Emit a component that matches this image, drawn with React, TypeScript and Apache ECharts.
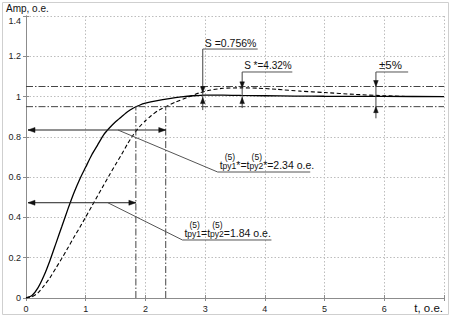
import React, { useEffect, useRef } from 'react';
import * as echarts from 'echarts';

const FONT = '"Liberation Sans", Arial, sans-serif';

// Solid curve (system 1)
const T_SOLID = [0, 0.1, 0.2, 0.3, 0.4, 0.5, 0.6, 0.7, 0.8, 0.9, 1.0, 1.1, 1.2, 1.3, 1.4, 1.5, 1.6, 1.7, 1.8, 1.9, 2.0, 2.2, 2.4, 2.6, 2.8, 3.0, 3.3, 3.6, 4.0, 4.5, 5.0, 6.0, 7.0];
const Y_SOLID = [0, 0.012, 0.05, 0.11, 0.185, 0.27, 0.355, 0.44, 0.52, 0.59, 0.65, 0.71, 0.76, 0.81, 0.845, 0.875, 0.9, 0.925, 0.943, 0.957, 0.967, 0.98, 0.99, 0.998, 1.004, 1.0076, 1.007, 1.0055, 1.004, 1.0025, 1.0015, 1.0005, 1.0];

// Dashed curve (system 2)
const T_DASH = [0, 0.1, 0.2, 0.3, 0.4, 0.5, 0.6, 0.7, 0.8, 0.9, 1.0, 1.1, 1.2, 1.3, 1.4, 1.5, 1.6, 1.7, 1.8, 1.9, 2.0, 2.1, 2.2, 2.34, 2.5, 2.7, 2.9, 3.1, 3.3, 3.6, 3.9, 4.2, 4.6, 5.0, 5.5, 6.0, 6.5, 7.0];
const Y_DASH = [0, 0.006, 0.025, 0.06, 0.1, 0.148, 0.197, 0.248, 0.3, 0.35, 0.402, 0.455, 0.508, 0.56, 0.612, 0.663, 0.712, 0.765, 0.812, 0.85, 0.88, 0.906, 0.928, 0.95, 0.972, 0.996, 1.018, 1.033, 1.041, 1.0432, 1.0415, 1.036, 1.027, 1.02, 1.011, 1.004, 1.0, 1.0];

const X_MAX = 7;
const Y_MAX = 1.4;
const SETTLE_TIMES = [1.84, 2.34];
const BAND_LEVELS = [0.95, 1.05];
const SPAN_TIMES = [1.84, 2.34];
const SPAN_LEVELS = [0.473, 0.834];

// leader lines: start (t,v), corner (t,v), end t
const LEADER_START_T = [1.37, 1.54];
const LEADER_START_V = [0.473, 0.834];
const LEADER_CORNER_T = [2.62, 3.21];
const LEADER_LEVEL = [0.288, 0.6255];
const LEADER_END_T = [4.11, 4.76];
const LEADER_LABELS = [
  [['t', 'm'], ['py1', 's'], ['=', 'm'], ['t', 'm'], ['py2', 's'], ['=1.84 o.e.', 'm']],
  [['t', 'm'], ['py1', 's'], ['*=', 'm'], ['t', 'm'], ['py2', 's'], ['*=2.34 o.e.', 'm']],
];

// vertical marker annotations
const MARK_T = [2.96, 3.62, 5.86];
const MARK_TOP = [1.236, 1.122, 1.122];
const MARK_BOTTOM = [0.933, 0.943, 0.892];
const MARK_END_T = [3.88, 4.46, 6.4];
const MARK_DOWN_TIP = [1.02, 1.0432, 1.05];
const MARK_UP_TIP = [0.995, 0.995, 0.95];
const MARK_LABELS = ['S =0.756%', 'S *=4.32%', '\u00b15%'];
const MARK_SIZES = [10.5, 10, 11.5];
const MARK_DX = [2, 2, 3];

const measure = (text: string, size: number) => {
  const ctx = document.createElement('canvas').getContext('2d')!;
  ctx.font = `${size}px "Liberation Sans"`;
  return ctx.measureText(text).width;
};

export default function App() {
  const ref = useRef<HTMLDivElement>(null);
  useEffect(() => {
    document.body.style.margin = '0';
    const chart = echarts.init(ref.current!, null, { renderer: 'svg' });
    const axisLine = { show: true, lineStyle: { color: '#8c8c8c', width: 1 } };
    const split = { show: true, lineStyle: { color: '#bdbdbd', type: [1.5, 2] as any, width: 1 } };
    chart.setOption({
      animation: false,
      grid: { left: 26, right: 8, top: 16, bottom: 20, containLabel: false },
      xAxis: [
        {
          type: 'value', min: 0, max: X_MAX, interval: 1,
          axisLine, axisTick: { show: true, inside: true, length: 3, lineStyle: { color: '#8c8c8c' } },
          splitLine: split,
          axisLabel: {
            fontSize: 9, color: '#222', fontFamily: FONT, margin: 6,
            formatter: (v: number) => (v >= X_MAX ? '' : String(v)),
          },
        },
        {
          type: 'value', position: 'top', min: 0, max: X_MAX, interval: 1,
          axisLine, axisTick: { show: true, inside: true, length: 3, lineStyle: { color: '#8c8c8c' } },
          splitLine: { show: false }, axisLabel: { show: false },
        },
      ],
      yAxis: [
        {
          type: 'value', min: 0, max: Y_MAX, interval: 0.2,
          axisLine, axisTick: { show: true, inside: true, length: 3, lineStyle: { color: '#8c8c8c' } },
          splitLine: split,
          axisLabel: {
            fontSize: 9, color: '#222', fontFamily: FONT, margin: 5,
            formatter: (v: number) => (v >= Y_MAX - 1e-6 ? '{top|' + String(+v.toFixed(1)) + '}' : String(+v.toFixed(1))),
            rich: { top: { fontSize: 9, color: '#222', fontFamily: FONT, padding: [9, 0, 0, 0] } },
          },
        },
        {
          type: 'value', position: 'right', min: 0, max: Y_MAX, interval: 0.2,
          axisLine, axisTick: { show: true, inside: true, length: 3, lineStyle: { color: '#8c8c8c' } },
          splitLine: { show: false }, axisLabel: { show: false },
        },
      ],
      series: [
        {
          type: 'line', xAxisIndex: 0, yAxisIndex: 0, showSymbol: false, smooth: 0.2,
          data: T_SOLID.map((t, i) => [t, Y_SOLID[i]]),
          lineStyle: { color: '#000', width: 1.3 }, z: 3,
        },
        {
          type: 'line', xAxisIndex: 0, yAxisIndex: 0, showSymbol: false, smooth: 0.2,
          data: T_DASH.map((t, i) => [t, Y_DASH[i]]),
          lineStyle: { color: '#000', width: 1.1, type: [4, 2.5] as any }, z: 3,
        },
      ],
    });

    const P = (t: number, v: number) => chart.convertToPixel({ xAxisIndex: 0, yAxisIndex: 0 }, [t, v]) as number[];
    const g: any[] = [];
    const Z = 10;
    const line = (a: number[], b: number[], color: string, dash?: number[], w = 1) =>
      g.push({ type: 'line', z: Z, silent: true, shape: { x1: a[0], y1: a[1], x2: b[0], y2: b[1] }, style: { stroke: color, lineWidth: w, lineDash: dash } });
    const head = (tip: number[], dir: string, l = 6, w = 2.3) => {
      const [x, y] = tip;
      let pts: number[][] = [];
      if (dir === 'down') pts = [[x, y], [x - w, y - l], [x + w, y - l]];
      if (dir === 'up') pts = [[x, y], [x - w, y + l], [x + w, y + l]];
      if (dir === 'left') pts = [[x, y], [x + l, y - w], [x + l, y + w]];
      if (dir === 'right') pts = [[x, y], [x - l, y - w], [x - l, y + w]];
      g.push({ type: 'polygon', z: Z, silent: true, shape: { points: pts }, style: { fill: '#111', stroke: '#111', lineWidth: 0.5 } });
    };
    const text = (x: number, y: number, s: string, size: number, align = 'left', va = 'bottom') =>
      g.push({ type: 'text', z: Z, silent: true, x, y, style: { text: s, fontSize: size, fontFamily: FONT, fill: '#111', align, verticalAlign: va } });

    const DASHDOT = [7, 2, 1.5, 2];
    // band lines
    BAND_LEVELS.forEach((lv) => line(P(0, lv), P(X_MAX, lv), '#444', DASHDOT));
    // settle verticals
    SETTLE_TIMES.forEach((t) => line(P(t, 0), P(t, 0.95), '#444', DASHDOT));
    // span arrows
    SPAN_TIMES.forEach((t, i) => {
      const a = P(0, SPAN_LEVELS[i]);
      a[0] += 2;
      const b = P(t, SPAN_LEVELS[i]);
      line(a, b, '#222');
      head(a, 'left', 7, 2.5);
      head(b, 'right', 7, 2.5);
    });
    // leader lines + labels
    const MAIN = 10.5, SUB = 8.5;
    LEADER_START_T.forEach((t, i) => {
      const s = P(t, LEADER_START_V[i]);
      const c = P(LEADER_CORNER_T[i], LEADER_LEVEL[i]);
      const e = P(LEADER_END_T[i], LEADER_LEVEL[i]);
      line(s, c, '#555');
      line(c, e, '#555');
      let x = c[0] + 2;
      const yb = c[1] - 1.5;
      LEADER_LABELS[i].forEach(([str, kind]) => {
        const size = kind === 's' ? SUB : MAIN;
        const w = measure(str, size);
        text(x, yb, str, size);
        if (kind === 's') text(x + w / 2 + 0.5, yb - 9, '(5)', 8.5, 'center');
        x += w;
      });
    });
    // vertical markers
    MARK_T.forEach((t, i) => {
      const top = P(t, MARK_TOP[i]);
      line(top, P(t, MARK_BOTTOM[i]), '#444');
      line(top, P(MARK_END_T[i], MARK_TOP[i]), '#555');
      head(P(t, MARK_DOWN_TIP[i]), 'down');
      head(P(t, MARK_UP_TIP[i]), 'up');
      text(top[0] + MARK_DX[i], top[1] - 1, MARK_LABELS[i], MARK_SIZES[i]);
    });
    // axis titles
    text(6, 8, 'Amp, o.e.', 10, 'left', 'middle');
    text(443, 308, 't, o.e.', 11.5, 'right', 'middle');
    // outer frame
    g.push({ type: 'rect', z: 0, silent: true, shape: { x: 2.5, y: 2.5, width: 446, height: 312 }, style: { fill: 'none', stroke: '#cfcfcf', lineWidth: 1 } });

    chart.setOption({ graphic: g });
    return () => chart.dispose();
  }, []);
  return <div ref={ref} style={{ width: 452, height: 318 }} />;
}
